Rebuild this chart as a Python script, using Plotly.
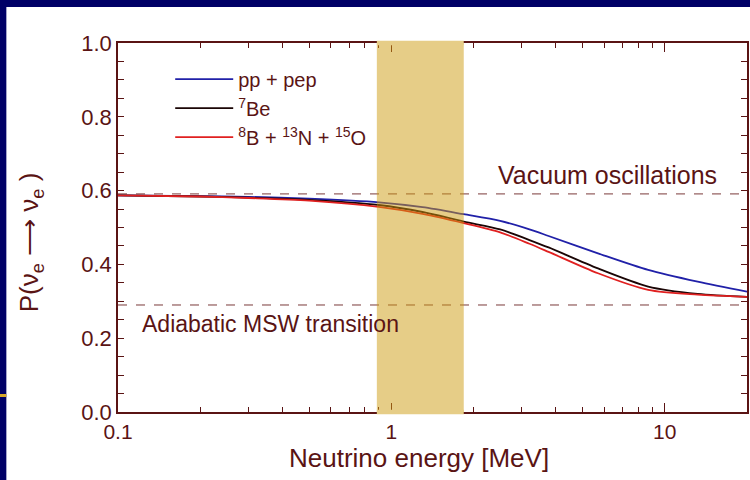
import plotly.graph_objects as go

# ---- data ----
energy = [0.1, 0.2, 0.3, 0.5, 0.9, 1.3, 1.84, 2.5, 3.2, 3.76, 5.7, 8.7, 13.2, 20]
p_pp = [0.587, 0.585, 0.583, 0.578, 0.568, 0.555, 0.536, 0.518, 0.495, 0.477, 0.430, 0.385, 0.353, 0.326]
p_be7 = [0.587, 0.584, 0.581, 0.575, 0.561, 0.542, 0.516, 0.495, 0.466, 0.446, 0.389, 0.340, 0.320, 0.312]
p_b8 = [0.587, 0.584, 0.580, 0.573, 0.556, 0.537, 0.512, 0.487, 0.456, 0.434, 0.376, 0.331, 0.318, 0.312]
series_names = ["pp + pep", "<sup>7</sup>Be", "<sup>8</sup>B + <sup>13</sup>N + <sup>15</sup>O"]
series_colors = ["#2020a8", "#1a0505", "#e02020"]
vacuum_level = 0.591
msw_level = 0.29
band_range = [0.885, 1.84]
x_range = [0.1, 20]
y_ticks = [0.0, 0.2, 0.4, 0.6, 0.8, 1.0]
x_ticks = [0.1, 1, 10]
x_ticklabels = ["0.1", "1", "10"]
x_minor = [0.2, 0.3, 0.4, 0.5, 0.6, 0.7, 0.8, 0.9, 2, 3, 4, 5, 6, 7, 8, 9, 20]
x_title = "Neutrino energy [MeV]"
y_title = "P(ν<sub>e</sub> ⟶ ν<sub>e</sub> )"

MAROON = "#5a1414"
FONT = "Liberation Sans, Arial, sans-serif"

fig = go.Figure()
for name, vals, col in zip(series_names, [p_pp, p_be7, p_b8], series_colors):
    fig.add_trace(go.Scatter(x=energy, y=vals, mode="lines", name=name,
                             line=dict(color=col, width=1.8, shape="spline", smoothing=0.8)))

shapes = []
# dashed reference lines
for lvl in (vacuum_level, msw_level):
    shapes.append(dict(type="line", xref="paper", yref="y", x0=0, x1=1, y0=lvl, y1=lvl,
                       line=dict(color="#7a3a3a", width=1, dash="dash"), layer="above"))
# shaded energy band
shapes.append(dict(type="rect", xref="x", yref="paper", x0=band_range[0], x1=band_range[1],
                   y0=0, y1=1, fillcolor="rgb(205,155,15)", opacity=0.5, line=dict(width=0),
                   layer="above"))
for yy in (0, 1):
    shapes.append(dict(type="rect", xref="x", yref="paper", x0=band_range[0], x1=band_range[1],
                       y0=yy - 0.006, y1=yy + 0.006, fillcolor="rgb(230,205,135)",
                       line=dict(width=0), layer="above"))
# slide frame decorations
shapes.append(dict(type="rect", xref="paper", yref="paper", x0=-0.3, x1=1.2, y0=1.0976, y1=1.3,
                   fillcolor="#000066", line=dict(width=0), layer="above"))
shapes.append(dict(type="rect", xref="paper", yref="paper", x0=-0.3, x1=-0.1775, y0=-0.3, y1=1.3,
                   fillcolor="#000066", line=dict(width=0), layer="above"))
shapes.append(dict(type="rect", xref="paper", yref="paper", x0=-0.3, x1=-0.1775,
                   y0=(412 - 397) / 369, y1=(412 - 394) / 369,
                   fillcolor="#d6a82a", line=dict(width=0), layer="above"))

fig.update_layout(
    width=750, height=480,
    margin=dict(l=118, r=1, t=43, b=68),
    paper_bgcolor="white", plot_bgcolor="white",
    font=dict(family=FONT, color=MAROON, size=18),
    shapes=shapes,
    showlegend=True,
    legend=dict(x=0.083, y=0.955, xanchor="left", yanchor="top", bgcolor="rgba(0,0,0,0)",
                font=dict(size=20, color=MAROON), tracegroupgap=0, itemwidth=58),
    annotations=[
        dict(text="Vacuum oscillations", xref="paper", yref="paper",
             x=(721 - 118) / 631, y=(412 - 175) / 369, xanchor="right", yanchor="middle",
             showarrow=False, font=dict(size=25, color=MAROON)),
        dict(text="Adiabatic MSW transition", xref="paper", yref="paper",
             x=(140 - 118) / 631, y=(412 - 324) / 369, xanchor="left", yanchor="middle",
             showarrow=False, font=dict(size=23, color=MAROON)),
        dict(text=x_title, xref="paper", yref="paper",
             x=(420 - 118) / 631, y=(412 - 458) / 369, xanchor="center", yanchor="middle",
             showarrow=False, font=dict(size=26, color=MAROON)),
        dict(text=y_title, xref="paper", yref="paper", textangle=-90,
             x=(31 - 118) / 631, y=(412 - 242) / 369, xanchor="center", yanchor="middle",
             showarrow=False, font=dict(size=26, color=MAROON)),
    ],
)
fig.update_xaxes(type="log", range=[-1, 1.30103], tickvals=x_ticks, ticktext=x_ticklabels,
                 ticks="inside", ticklen=9, tickwidth=1.3, tickcolor=MAROON,
                 showline=True, linecolor=MAROON, linewidth=1.5, mirror="ticks",
                 showgrid=False, zeroline=False,
                 minor=dict(tickvals=x_minor, ticks="inside", ticklen=5, tickcolor=MAROON, showgrid=False),
                 tickfont=dict(size=21, color=MAROON))
fig.update_yaxes(range=[0, 1], tickvals=y_ticks, tickformat=".1f",
                 ticks="inside", ticklen=6, tickwidth=1.3, tickcolor=MAROON,
                 showline=True, linecolor=MAROON, linewidth=1.5, mirror="ticks",
                 showgrid=False, zeroline=False,
                 minor=dict(dtick=0.05, ticks="inside", ticklen=6, tickcolor=MAROON, showgrid=False),
                 tickfont=dict(size=22, color=MAROON))

fig.write_html("out.html")
